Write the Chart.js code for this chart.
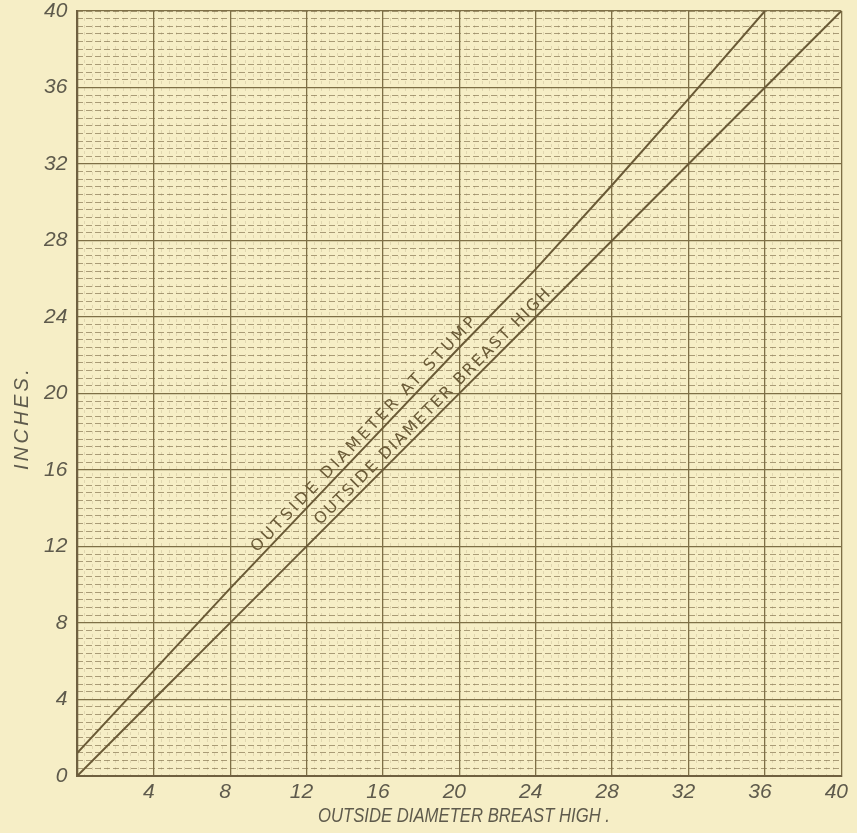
<!DOCTYPE html>
<html>
<head>
<meta charset="utf-8">
<script src="https://cdn.jsdelivr.net/npm/chart.js@4.4.1/dist/chart.umd.min.js"></script>
<style>
  html, body { margin: 0; padding: 0; background: #f5edc4; }
  #wrap { width: 857px; height: 833px; }
</style>
</head>
<body>
<div id="wrap"><canvas id="chart" width="857" height="833"></canvas></div>
<script>
// diameter outside bark, inches
const breastX = [0, 4, 8, 12, 16, 20, 24, 28, 32, 36, 40];
const breastY = [0, 4, 8, 12, 16, 20, 24, 28, 32, 36, 40];
const stumpX  = [0, 4, 8, 12, 16, 20, 24, 28, 32, 36];
const stumpY  = [1.2, 5.5, 9.8, 14.0, 18.2, 22.4, 26.5, 30.9, 35.4, 40];

const majorTicks = [0, 4, 8, 12, 16, 20, 24, 28, 32, 36, 40];

const ink = '#6a5a36';
const labelInk = '#5e5a4c';
const tickFont = { family: 'Liberation Sans', style: 'italic', size: 21 };

// line captions, written along each curve
const captions = [
  { text: 'OUTSIDE DIAMETER AT STUMP', xs: stumpX, ys: stumpY, from: 9.6, to: 21.2 },
  { text: 'OUTSIDE DIAMETER BREAST HIGH.', xs: breastX, ys: breastY, from: 12.9, to: 25.3 },
];

function interp(xs, ys, v) {
  for (let i = 1; i < xs.length; i++) {
    if (v <= xs[i]) {
      const t = (v - xs[i - 1]) / (xs[i] - xs[i - 1]);
      return ys[i - 1] + t * (ys[i] - ys[i - 1]);
    }
  }
  return ys[ys.length - 1];
}

// write text so it spans `want` px, by letter spacing or squeezing
function fitText(ctx, text, want) {
  ctx.letterSpacing = '0px';
  const w = ctx.measureText(text).width;
  if (w < want) {
    ctx.letterSpacing = ((want - w) / text.length).toFixed(2) + 'px';
    ctx.fillText(text, 0, 0);
  } else {
    ctx.scale(want / w, 1);
    ctx.fillText(text, 0, 0);
  }
}

const captionPlugin = {
  id: 'captions',
  afterDatasetsDraw(chart) {
    const { ctx, scales: { x, y } } = chart;
    ctx.save();
    ctx.fillStyle = ink;
    ctx.font = '16px "DejaVu Sans"';
    ctx.textBaseline = 'alphabetic';
    ctx.textAlign = 'left';
    captions.forEach(c => {
      const x0 = x.getPixelForValue(c.from), y0 = y.getPixelForValue(interp(c.xs, c.ys, c.from));
      const x1 = x.getPixelForValue(c.to),   y1 = y.getPixelForValue(interp(c.xs, c.ys, c.to));
      const ang = Math.atan2(y1 - y0, x1 - x0);
      ctx.save();
      ctx.translate(x0, y0);
      ctx.rotate(ang);
      ctx.translate(0, -5);
      fitText(ctx, c.text, Math.hypot(x1 - x0, y1 - y0));
      ctx.restore();
    });

    // axis titles
    ctx.fillStyle = labelInk;
    ctx.font = 'italic 20px "Liberation Sans"';
    ctx.textBaseline = 'middle';
    ctx.save();
    ctx.translate(318, 816);
    fitText(ctx, 'OUTSIDE DIAMETER BREAST HIGH .', 292);
    ctx.restore();
    ctx.save();
    ctx.translate(22, 470);
    ctx.rotate(-Math.PI / 2);
    fitText(ctx, 'INCHES.', 104);
    ctx.restore();
    ctx.restore();
  }
};

const bgPlugin = {
  id: 'bg',
  beforeDraw(chart) {
    const { ctx, width, height } = chart;
    ctx.save();
    ctx.fillStyle = '#f6eec6';
    ctx.fillRect(0, 0, width, height);
    ctx.restore();
  }
};

const minorScale = (axis, color, dash) => ({
  type: 'linear',
  axis,
  position: axis === 'x' ? 'bottom' : 'left',
  min: 0, max: 40,
  display: true,
  ticks: { display: false, stepSize: 0.4 },
  grid: { color, lineWidth: 1, drawTicks: false },
  border: { display: false, dash },
});

new Chart(document.getElementById('chart'), {
  type: 'line',
  data: {
    datasets: [
      {
        label: 'Outside diameter at stump',
        data: stumpX.map((v, i) => ({ x: v, y: stumpY[i] })),
        borderColor: ink, borderWidth: 2, pointRadius: 0, tension: 0,
      },
      {
        label: 'Outside diameter breast high',
        data: breastX.map((v, i) => ({ x: v, y: breastY[i] })),
        borderColor: ink, borderWidth: 2, pointRadius: 0, tension: 0,
      },
    ],
  },
  options: {
    responsive: false,
    animation: false,
    layout: { padding: { left: 34, top: 0, right: 5, bottom: 24 } },
    plugins: { legend: { display: false }, tooltip: { enabled: false } },
    scales: {
      xMinor: minorScale('x', 'rgba(120,100,60,0.16)', [3, 4]),
      yMinor: minorScale('y', 'rgba(105,88,52,0.55)', [6, 3]),
      x: {
        type: 'linear', min: 0, max: 40,
        afterBuildTicks: s => { s.ticks = majorTicks.map(v => ({ value: v })); },
        ticks: {
          font: tickFont, color: labelInk, padding: 4, maxRotation: 0, labelOffset: -5,
          callback: v => v === 0 ? '' : v,
        },
        grid: { color: '#7e6f46', lineWidth: 1.3, drawTicks: false },
        border: { color: '#6f6040', width: 2 },
      },
      y: {
        type: 'linear', min: 0, max: 40,
        afterBuildTicks: s => { s.ticks = majorTicks.map(v => ({ value: v })); },
        afterFit: s => { s.paddingTop = 11; },
        ticks: { font: tickFont, color: labelInk, padding: 10 },
        grid: { color: '#7e6f46', lineWidth: 1.3, drawTicks: false },
        border: { color: '#6f6040', width: 2 },
      },
    },
  },
  plugins: [bgPlugin, captionPlugin],
});
</script>
</body>
</html>
